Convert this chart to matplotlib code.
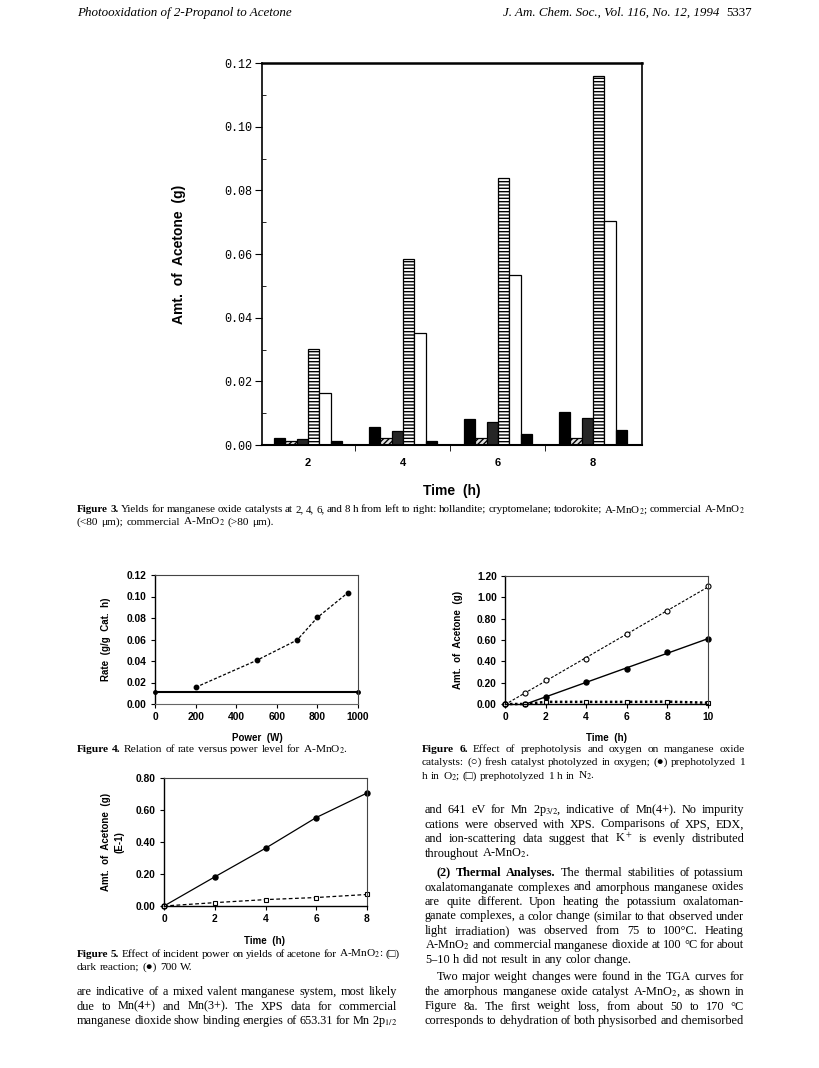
import numpy as np
import matplotlib
matplotlib.use('Agg')
import matplotlib.pyplot as plt

W, H = 820, 1068
plt.rcParams['font.family'] = ['Liberation Sans', 'DejaVu Sans']
plt.rcParams['mathtext.fontset'] = 'stix'
plt.rcParams['hatch.linewidth'] = 1.0
SERIF = ['Liberation Serif', 'DejaVu Sans']

# Figure 3 - yields per catalyst at 2,4,6,8 h
times3 = ['2', '4', '6', '8']
hollandite = [0.0022, 0.0055, 0.0082, 0.0105]
cryptomelane = [0.0014, 0.0022, 0.0022, 0.0022]
todorokite = [0.0019, 0.0045, 0.0073, 0.0085]
a_mno2 = [0.0303, 0.0585, 0.0840, 0.1160]
comm_small = [0.0163, 0.0352, 0.0535, 0.0703]
comm_large = [0.0013, 0.0013, 0.0036, 0.0046]

# Figure 4 - rate vs power
power = [200, 500, 700, 800, 950]
rate = [0.0155, 0.0405, 0.0595, 0.0805, 0.1035]
base_power = [0, 1000]
base_rate = [0.011, 0.011]

# Figure 5 - acetone (E-1) vs time
t5 = [0, 2, 4, 6, 8]
light700 = [0.0, 0.182, 0.361, 0.553, 0.706]
dark5 = [0.0, 0.021, 0.040, 0.053, 0.072]

# Figure 6 - prephotolysis
t6 = [0, 1, 2, 4, 6, 8, 10]
fresh_o2 = [0.0, 0.102, 0.226, 0.421, 0.653, 0.870, 1.108]
pre_o2 = [0.0, 0.0, 0.068, 0.204, 0.328, 0.483, 0.613]
pre_n2 = [0.0, 0.0, 0.020, 0.020, 0.020, 0.022, 0.012]

fig = plt.figure(figsize=(W / 100, H / 100), dpi=100)
fig.patch.set_facecolor('white')
renderer = fig.canvas.get_renderer()


def px_axes(l, t, r, b):
    return fig.add_axes([l / W, 1 - b / H, (r - l) / W, (b - t) / H])


def put_line(x0, x1, y, s, size, nbold=0, justify=True, style='normal'):
    # place words one by one, spread to fill the column when justify is on
    words = s.split()
    while True:
        objs = []
        for i, w in enumerate(words):
            t = fig.text(x0 / W, 1 - y / H, w, fontsize=size, family=SERIF,
                         fontweight='bold' if i < nbold else 'normal',
                         fontstyle=style, va='baseline', ha='left')
            objs.append(t)
        widths = [t.get_window_extent(renderer).width for t in objs]
        em = size * 100 / 72
        if justify and len(objs) > 1:
            gap = (x1 - x0 - sum(widths)) / (len(objs) - 1)
        else:
            gap = 0.27 * em
        if gap >= 0.2 * em:
            break
        # too tight: shrink a little and retry
        for t in objs:
            t.remove()
        size -= 0.1
    x = x0
    for t, wd in zip(objs, widths):
        t.set_x(x / W)
        x += wd + gap


CAP = 8.2
BODY = 8.8

# header
fig.text(77 / W, 1 - 16 / H, 'Photooxidation of 2-Propanol to Acetone', family=SERIF,
         fontstyle='italic', fontsize=9.4, va='baseline')
fig.text(719 / W, 1 - 16 / H, 'J. Am. Chem. Soc., Vol. 116, No. 12, 1994', family=SERIF,
         fontstyle='italic', fontsize=9.4, va='baseline', ha='right')
fig.text(752 / W, 1 - 16 / H, '5337', family=SERIF, fontsize=9.4, va='baseline', ha='right')

# ---- Figure 3
ax3 = px_axes(262, 63, 642, 445)
series3 = [hollandite, cryptomelane, todorokite, a_mno2, comm_small, comm_large]
styles3 = [dict(facecolor='black', edgecolor='black'),
           dict(facecolor='#e0e0e0', edgecolor='black', hatch='//////'),
           dict(facecolor='#262626', edgecolor='black'),
           dict(facecolor='white', edgecolor='black', hatch='-----'),
           dict(facecolor='white', edgecolor='black'),
           dict(facecolor='black', edgecolor='black')]
x3 = np.arange(len(times3))
bw = 0.119
for i, (vals, st) in enumerate(zip(series3, styles3)):
    ax3.bar(x3 + (i - 3) * bw, vals, width=bw, align='edge', linewidth=0.9, **st)
ax3.set_xlim(-0.484, 3.516)
ax3.set_ylim(0, 0.12)
ax3.set_xticks(x3)
ax3.set_xticklabels(times3, fontweight='bold', fontsize=8)
ax3.set_xticks(x3[:-1] + 0.5, minor=True)
ax3.tick_params(axis='x', which='major', length=0, pad=9)
ax3.tick_params(axis='x', which='minor', length=4, direction='out')
yt3 = np.arange(0, 0.121, 0.02)
ax3.set_yticks(yt3)
ax3.set_yticklabels(['%.2f' % v for v in yt3], family='Liberation Mono', fontsize=8.5)
ax3.set_yticks(np.arange(0.01, 0.12, 0.02), minor=True)
ax3.tick_params(axis='y', which='major', length=5, direction='out', pad=2)
ax3.tick_params(axis='y', which='minor', length=3, direction='in')
ax3.spines['top'].set_linewidth(1.8)
ax3.spines['bottom'].set_linewidth(1.5)
ax3.spines['left'].set_linewidth(1.2)
ax3.spines['right'].set_linewidth(1.2)
ax3.set_ylabel('Amt.  of  Acetone  (g)', fontweight='bold', fontsize=10)
ax3.yaxis.set_label_coords(-0.20, 0.5)
fig.text(452 / W, 1 - 491 / H, 'Time  (h)', fontweight='bold', fontsize=10,
         ha='center', va='center')

put_line(77, 745, 512, 'Figure 3.  Yields for manganese oxide catalysts at 2, 4, 6, and 8 h from left to right:  '
         'hollandite; cryptomelane; todorokite; A-MnO$_2$; commercial A-MnO$_2$', CAP, nbold=2)
put_line(77, 745, 525, '(<80 μm); commercial A-MnO$_2$ (>80 μm).', CAP, justify=False)


def style_small(ax, xt, yt, yfmt):
    ax.set_xticks(xt)
    ax.set_xticklabels([str(v) for v in xt], fontweight='bold', fontsize=7.4)
    ax.set_yticks(yt)
    ax.set_yticklabels([yfmt % v for v in yt], fontweight='bold', fontsize=7.4)
    ax.tick_params(length=3, width=0.8, direction='out', pad=3)
    for s in ['top', 'right']:
        ax.spines[s].set_linewidth(0.8)
        ax.spines[s].set_color('#444444')
    for s in ['left', 'bottom']:
        ax.spines[s].set_linewidth(1.0)


# ---- Figure 4
ax4 = px_axes(155, 575, 358, 704)
ax4.plot(power, rate, linestyle=(0, (2.5, 1.5)), color='black', lw=0.9,
         marker='o', ms=3.2)
ax4.plot(base_power, base_rate, '-', color='black', lw=1.5, marker='o', ms=2.5,
         clip_on=False)
ax4.set_xlim(0, 1000)
ax4.set_ylim(0, 0.12)
style_small(ax4, [0, 200, 400, 600, 800, 1000], np.arange(0, 0.121, 0.02), '%.2f')
ax4.spines['bottom'].set_color('#666666')
ax4.spines['bottom'].set_linewidth(0.8)
ax4.set_ylabel('Rate  (g/g  Cat.  h)', fontweight='bold', fontsize=7)
ax4.yaxis.set_label_coords(-0.215, 0.5)
fig.text(257 / W, 1 - 738 / H, 'Power  (W)', fontweight='bold', fontsize=7, ha='center', va='center')
put_line(77, 400, 752, 'Figure 4.  Relation of rate versus power level for A-MnO$_2$.', CAP,
         nbold=2, justify=False)

# ---- Figure 6
ax6 = px_axes(505, 576, 708, 704)
f1 = np.polyfit(t6, fresh_o2, 1)
tt = np.array([t6[0], t6[-1]])
ax6.plot(tt, np.polyval(f1, tt), linestyle=(0, (2.5, 1.5)), color='black', lw=0.8)
f2 = np.polyfit(t6[1:], pre_o2[1:], 1)
tt2 = np.array([t6[1], t6[-1]])
ax6.plot(tt2, np.polyval(f2, tt2), '-', color='black', lw=1.0)
ax6.plot(t6, pre_n2, linestyle=(0, (1, 1)), color='black', lw=1.8, clip_on=False)
ax6.plot(t6, fresh_o2, 'o', ms=3.6, mfc='white', mec='black', mew=0.8, clip_on=False)
ax6.plot(t6, pre_o2, 'o', ms=3.6, color='black', clip_on=False)
ax6.plot(t6, pre_n2, 's', ms=3.4, mfc='white', mec='black', mew=0.8, clip_on=False)
ax6.set_xlim(0, 10)
ax6.set_ylim(0, 1.2)
style_small(ax6, [0, 2, 4, 6, 8, 10], np.arange(0, 1.21, 0.2), '%.2f')
ax6.set_ylabel('Amt.  of  Acetone  (g)', fontweight='bold', fontsize=7)
ax6.yaxis.set_label_coords(-0.205, 0.5)
fig.text(607 / W, 1 - 738 / H, 'Time  (h)', fontweight='bold', fontsize=7, ha='center', va='center')
put_line(422, 745, 752, 'Figure 6.  Effect of prephotolysis and oxygen on manganese oxide', CAP, nbold=2)
put_line(422, 745, 765, 'catalysts:  (○) fresh catalyst photolyzed in oxygen; (●) prephotolyzed 1', CAP)
put_line(422, 745, 779, 'h in O$_2$; (□) prephotolyzed 1 h in N$_2$.', CAP, justify=False)

# ---- Figure 5
ax5 = px_axes(164, 778, 367, 906)
ax5.plot(t5, light700, '-', color='black', lw=0.9, marker='o', ms=3.6, clip_on=False)
ax5.plot(t5, dark5, linestyle=(0, (3, 2)), color='black', lw=0.9, marker='s', ms=3.4,
         mfc='white', mew=0.8, clip_on=False)
ax5.set_xlim(0, 8)
ax5.set_ylim(0, 0.8)
style_small(ax5, [0, 2, 4, 6, 8], np.arange(0, 0.81, 0.2), '%.2f')
ax5.set_ylabel('Amt.  of  Acetone  (g)\n(E-1)', fontweight='bold', fontsize=7,
               multialignment='center', linespacing=1.4)
ax5.yaxis.set_label_coords(-0.195, 0.5)
fig.text(265 / W, 1 - 941 / H, 'Time  (h)', fontweight='bold', fontsize=7, ha='center', va='center')
put_line(77, 400, 957, 'Figure 5.  Effect of incident power on yields of acetone for A-MnO$_2$:  (□)', CAP, nbold=2)
put_line(77, 400, 970, 'dark reaction; (●) 700 W.', CAP, justify=False)

# ---- body text
left_col = ['are indicative of a mixed valent manganese system, most likely',
            'due to Mn(4+) and Mn(3+).  The XPS data for commercial',
            'manganese dioxide show binding energies of 653.31 for Mn 2p$_{1/2}$']
for k, s in enumerate(left_col):
    put_line(77, 397, 995 + 14.5 * k, s, BODY)

right_col = [
    ('and 641 eV for Mn 2p$_{3/2}$, indicative of Mn(4+).  No impurity', 0, True, 0),
    ('cations were observed with XPS.  Comparisons of XPS, EDX,', 0, True, 0),
    ('and ion-scattering data suggest that K$^+$ is evenly distributed', 0, True, 0),
    ('throughout A-MnO$_2$.', 0, False, 0),
    ('(2) Thermal Analyses.  The thermal stabilities of potassium', 3, True, 12),
    ('oxalatomanganate complexes and amorphous manganese oxides', 0, True, 0),
    ('are quite different.  Upon heating the potassium oxalatoman-', 0, True, 0),
    ('ganate complexes, a color change (similar to that observed under', 0, True, 0),
    ('light irradiation) was observed from 75 to 100°C.  Heating', 0, True, 0),
    ('A-MnO$_2$ and commercial manganese dioxide at 100 °C for about', 0, True, 0),
    ('5–10 h did not result in any color change.', 0, False, 0),
    ('Two major weight changes were found in the TGA curves for', 0, True, 12),
    ('the amorphous manganese oxide catalyst A-MnO$_2$, as shown in', 0, True, 0),
    ('Figure 8a.  The first weight loss, from about 50 to 170 °C', 0, True, 0),
    ('corresponds to dehydration of both physisorbed and chemisorbed', 0, True, 0),
]
ys = [813, 827.5, 842, 856.5, 876, 890.5, 905, 919.5, 934, 948.5, 963, 980, 995, 1009.5, 1024]
for (s, nb, just, ind), y in zip(right_col, ys):
    put_line(425 + ind, 744, y, s, BODY, nbold=nb, justify=just)

fig.savefig('out.png', dpi=100, facecolor='white')
